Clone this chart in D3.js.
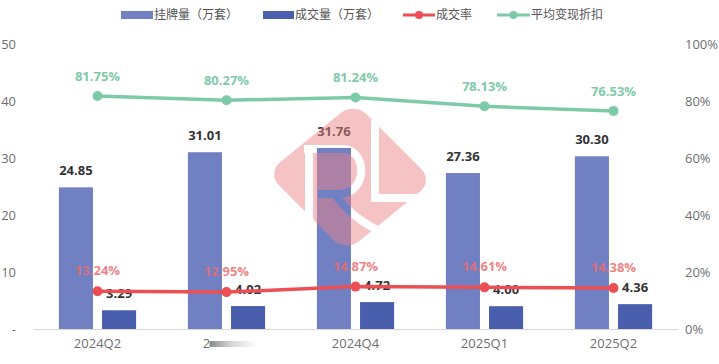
<!DOCTYPE html>
<html>
<head>
<meta charset="utf-8">
<script src="https://cdn.jsdelivr.net/npm/d3@7"></script>
<style>
  body { margin: 0; background: #fff; }
  svg { display: block; }
</style>
</head>
<body>
<div id="canvas"></div>
<script>
const quarters = ["2024Q2", "2024Q3", "2024Q4", "2025Q1", "2025Q2"];
const listed = [24.85, 31.01, 31.76, 27.36, 30.30];
const deals = [3.29, 4.02, 4.72, 4.00, 4.36];
const dealRate = [13.24, 12.95, 14.87, 14.61, 14.38];
const discount = [81.75, 80.27, 81.24, 78.13, 76.53];
const leftTicks = [0, 10, 20, 30, 40, 50];
const rightTicks = [0, 20, 40, 60, 80, 100];
const barSeries = ["挂牌量（万套）", "成交量（万套）"];
const lineSeries = ["成交率", "平均变现折扣"];

const width = 719;
const height = 364;
const margin = { top: 44, left: 33, bottom: 35, right: 41 };
const iwidth = width - margin.left - margin.right;
const iheight = height - margin.top - margin.bottom;

const colLight = "#7180c2";
const colDark = "#4a5eae";
const colRed = "#eb4f54";
const colGreen = "#7ccaa7";
const numFont = "'Open Sans', 'Noto Sans CJK SC', sans-serif";
const cjkFont = "'Noto Sans CJK SC', sans-serif";

const svg = d3.select("#canvas").append("svg")
  .attr("width", width)
  .attr("height", height);
const defs = svg.append("defs");

const g = svg.append("g")
  .attr("transform", `translate(${margin.left},${margin.top})`);

const x0 = d3.scaleBand().domain(quarters).range([0, iwidth]).padding(0);
const x1 = d3.scaleBand().domain(barSeries).range([0, x0.bandwidth()])
  .paddingInner(0.21).paddingOuter(0.6);
const yL = d3.scaleLinear().domain([0, 50]).range([iheight, 0]);
const yR = d3.scaleLinear().domain([0, 100]).range([iheight, 0]);
const cx = q => x0(q) + x0.bandwidth() / 2;

// axes
const axL = g.append("g")
  .call(d3.axisLeft(yL).tickValues(leftTicks).tickSize(0).tickPadding(17)
    .tickFormat(d => d === 0 ? "-" : d));
axL.select(".domain").remove();
axL.selectAll("text").attr("fill", "#6f6f6f").style("font", `13px ${numFont}`);

const axR = g.append("g")
  .attr("transform", `translate(${iwidth},0)`)
  .call(d3.axisRight(yR).tickValues(rightTicks).tickSize(0).tickPadding(7)
    .tickFormat(d => d + "%"));
axR.select(".domain").remove();
axR.selectAll("text").attr("fill", "#6f6f6f").style("font", `13px ${numFont}`);

const axB = g.append("g")
  .attr("transform", `translate(0,${iheight})`)
  .call(d3.axisBottom(x0).tickSize(0).tickPadding(10));
axB.select(".domain").attr("stroke", "#d9d9d9");
axB.selectAll("text").attr("fill", "#6f6f6f").style("font", `13px ${numFont}`);

// bars
const groups = g.selectAll(".grp").data(quarters).enter().append("g")
  .attr("class", "grp")
  .attr("transform", d => `translate(${x0(d)},0)`);

groups.append("rect")
  .attr("x", x1(barSeries[0]))
  .attr("y", (d, i) => yL(listed[i]))
  .attr("width", x1.bandwidth())
  .attr("height", (d, i) => iheight - yL(listed[i]))
  .attr("fill", colLight);

groups.append("rect")
  .attr("x", x1(barSeries[1]))
  .attr("y", (d, i) => yL(deals[i]))
  .attr("width", x1.bandwidth())
  .attr("height", (d, i) => iheight - yL(deals[i]))
  .attr("fill", colDark);

// lines
const lineR = d3.line().x((d, i) => cx(quarters[i])).y(d => yR(d));
[[dealRate, colRed], [discount, colGreen]].forEach(([vals, c]) => {
  g.append("path").datum(vals)
    .attr("d", lineR)
    .attr("fill", "none")
    .attr("stroke", c)
    .attr("stroke-width", 3.5);
  g.selectAll(null).data(vals).enter().append("circle")
    .attr("cx", (d, i) => cx(quarters[i]))
    .attr("cy", d => yR(d))
    .attr("r", 5)
    .attr("fill", c);
});

// value labels
groups.append("text")
  .attr("x", x1(barSeries[0]) + x1.bandwidth() / 2)
  .attr("y", (d, i) => yL(listed[i]) - 12)
  .attr("text-anchor", "middle")
  .attr("fill", "#333")
  .style("font", `bold 13px ${numFont}`)
  .text((d, i) => listed[i].toFixed(2));

groups.append("text")
  .attr("x", x1(barSeries[1]) + x1.bandwidth() / 2)
  .attr("y", (d, i) => yL(deals[i]) - 12)
  .attr("text-anchor", "middle")
  .attr("fill", "#333")
  .style("font", `bold 13px ${numFont}`)
  .text((d, i) => deals[i].toFixed(2));

g.selectAll(".lblR").data(dealRate).enter().append("text")
  .attr("x", (d, i) => cx(quarters[i]))
  .attr("y", d => yR(d) - 16)
  .attr("text-anchor", "middle")
  .attr("fill", "#ee6b6e")
  .attr("fill-opacity", 0.85)
  .style("font", `bold 13px ${numFont}`)
  .text(d => d.toFixed(2) + "%");

g.selectAll(".lblG").data(discount).enter().append("text")
  .attr("x", (d, i) => cx(quarters[i]))
  .attr("y", d => yR(d) - 15)
  .attr("text-anchor", "middle")
  .attr("fill", "#80caab")
  .style("font", `bold 13px ${numFont}`)
  .text(d => d.toFixed(2) + "%");

// blurred tick label (2024Q3) as in the source image
const grad = defs.append("linearGradient").attr("id", "smear");
grad.append("stop").attr("offset", "0%").attr("stop-color", "#8a8a8a");
grad.append("stop").attr("offset", "45%").attr("stop-color", "#d6d6d6");
grad.append("stop").attr("offset", "100%").attr("stop-color", "#ffffff");
const blurX = margin.left + cx(quarters[1]) - 17;
svg.append("rect").attr("x", blurX).attr("y", 333).attr("width", 60).attr("height", 22).attr("fill", "#fff");
svg.append("rect").attr("x", blurX).attr("y", 341).attr("width", 48).attr("height", 6).attr("fill", "url(#smear)");

// watermark: pink rounded diamond with an "R" cut out of it
const mask = defs.append("mask").attr("id", "wmMask").attr("maskUnits", "userSpaceOnUse")
  .attr("x", 0).attr("y", 0).attr("width", width).attr("height", height);
mask.append("rect").attr("width", width).attr("height", height).attr("fill", "#fff");
mask.append("path")
  .attr("d", "M309,147 L309,262 M304,149 L342,149 C368,149 368,193 340,194 L318,194 " +
    "M336,196 C350,215 368,228 396,238 M375,120 L375,198 L440,198")
  .attr("fill", "none")
  .attr("stroke", "#000")
  .attr("stroke-width", 8);
svg.append("g").attr("mask", "url(#wmMask)").attr("opacity", 0.48)
  .append("rect")
  .attr("x", -59).attr("y", -59).attr("width", 118).attr("height", 118).attr("rx", 18)
  .attr("transform", "translate(350,177) scale(1,0.9) rotate(48)")
  .attr("fill", "#ee8486");

// legend
const legend = svg.append("g").attr("transform", "translate(0,15)");
const legItems = [
  { x: 121, w: 32, type: "bar", c: colLight, t: barSeries[0] },
  { x: 263, w: 31, type: "bar", c: colDark, t: barSeries[1] },
  { x: 403, w: 32, type: "line", c: colRed, t: lineSeries[0] },
  { x: 497, w: 33, type: "line", c: colGreen, t: lineSeries[1] }
];
legItems.forEach(it => {
  if (it.type === "bar") {
    legend.append("rect").attr("x", it.x).attr("y", -4).attr("width", it.w).attr("height", 8).attr("fill", it.c);
  } else {
    legend.append("line").attr("x1", it.x).attr("x2", it.x + it.w).attr("y1", 0).attr("y2", 0)
      .attr("stroke", it.c).attr("stroke-width", 3);
    legend.append("circle").attr("cx", it.x + it.w / 2).attr("cy", 0).attr("r", 4).attr("fill", it.c);
  }
  legend.append("text")
    .attr("x", it.x + it.w + 1)
    .attr("y", 0)
    .attr("dy", "0.35em")
    .attr("fill", "#555")
    .style("font", `12px ${cjkFont}`)
    .text(it.t);
});
</script>
</body>
</html>
